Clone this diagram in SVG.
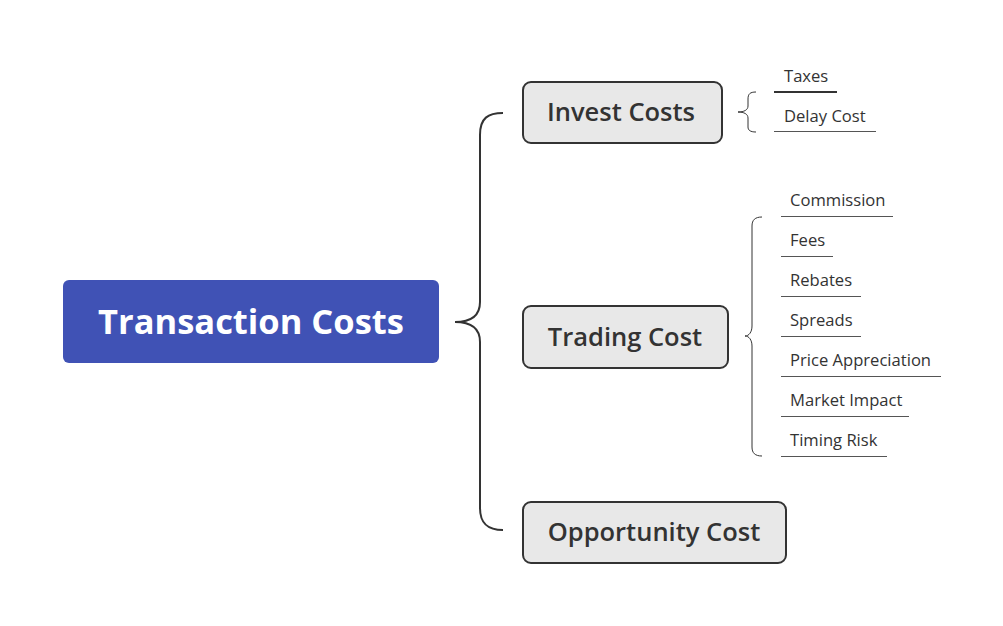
<svg xmlns="http://www.w3.org/2000/svg" width="1003" height="626" viewBox="0 0 1003 626">
<style>
.topic{fill:#e8e8e8;stroke:#333;stroke-width:2}
.tt{font-family:"Open Sans","Liberation Sans",sans-serif;font-weight:600;font-size:25.5px;fill:#333;text-anchor:middle}
.leaf{font-family:"Open Sans","Liberation Sans",sans-serif;font-size:16.6px;fill:#333}
.ul{stroke:#555;stroke-width:1.2}
.br{fill:none;stroke:#333}
</style>
<rect width="1003" height="626" fill="#fff"/>
<g id="connectors">
<path class="br" stroke-width="2" d="M503,113 C488,113 480,118 480,135 L480,302 C480,316 470,322 455,322 C470,322 480,328 480,342 L480,508 C480,524 488,530 503,530"/>
<path class="br" stroke-width="1" d="M756,92 C750,92 748,94 748,99 L748,106 C748,110 744,112 738,112 C744,112 748,114 748,118 L748,127 C748,130 750,132 756,132"/>
<path class="br" stroke-width="1" d="M762,217 C755,217 752,220 752,226 L752,326 C752,332 749,336 745,336 C749,336 752,340 752,346 L752,447 C752,453 755,456 762,456"/>
</g>
<g id="root">
<rect x="63" y="280" width="376" height="83" rx="6" fill="#4052b5"/>
<text x="251" y="334" font-family="'Open Sans','Liberation Sans',sans-serif" font-weight="700" font-size="34.5" fill="#fff" text-anchor="middle">Transaction Costs</text>
</g>
<g id="invest">
<rect class="topic" x="523" y="82" width="199" height="61" rx="8"/>
<text class="tt" x="621" y="121">Invest Costs</text>
</g>
<g id="trading">
<rect class="topic" x="523" y="306" width="205" height="62" rx="8"/>
<text class="tt" x="625" y="346">Trading Cost</text>
</g>
<g id="opportunity">
<rect class="topic" x="523" y="502" width="263" height="61" rx="8"/>
<text class="tt" x="654" y="541">Opportunity Cost</text>
</g>
<g id="taxes"><text class="leaf" x="784" y="82">Taxes</text><line x1="774" y1="92" x2="837" y2="92" stroke="#333" stroke-width="2"/></g>
<g id="delay"><text class="leaf" x="784" y="122">Delay Cost</text><line class="ul" x1="774" y1="131.5" x2="876" y2="131.5"/></g>
<g id="commission"><text class="leaf" x="790" y="206">Commission</text><line class="ul" x1="781" y1="216.5" x2="893" y2="216.5"/></g>
<g id="fees"><text class="leaf" x="790" y="246">Fees</text><line class="ul" x1="781" y1="256.5" x2="833" y2="256.5"/></g>
<g id="rebates"><text class="leaf" x="790" y="286">Rebates</text><line class="ul" x1="781" y1="296.5" x2="861" y2="296.5"/></g>
<g id="spreads"><text class="leaf" x="790" y="326">Spreads</text><line class="ul" x1="781" y1="336.5" x2="861" y2="336.5"/></g>
<g id="price"><text class="leaf" x="790" y="366">Price Appreciation</text><line class="ul" x1="781" y1="376.5" x2="941" y2="376.5"/></g>
<g id="market"><text class="leaf" x="790" y="406">Market Impact</text><line class="ul" x1="781" y1="416.5" x2="909" y2="416.5"/></g>
<g id="timing"><text class="leaf" x="790" y="446">Timing Risk</text><line class="ul" x1="781" y1="456.5" x2="887" y2="456.5"/></g>
</svg>
